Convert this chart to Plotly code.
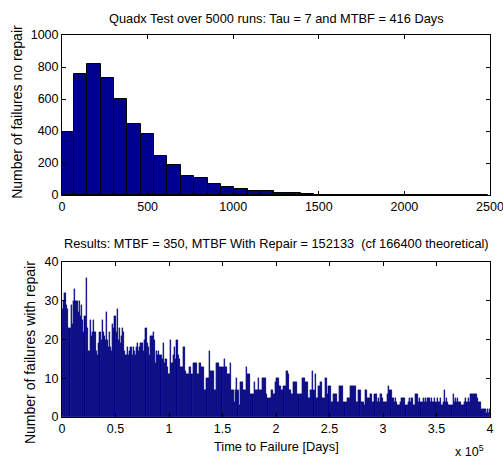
import plotly.graph_objects as go

# ---------------- data ----------------
# Top histogram (no repair): 32 bins, width 78 days, first edge at -8 days
top_first_edge = -8
top_bin_width = 78
top_counts = [397, 759, 821, 730, 599, 445, 383, 243, 189, 116,
              104, 69, 48, 40, 25, 25, 12, 12, 5, 0,
              2, 2, 2, 2, 2, 0, 0, 0, 0, 0,
              2, 2]

# Bottom histogram (with repair): 400 bins of 1000 days
bottom_bin_width = 1000
bottom_counts = [
    28, 30, 32, 32, 29, 28, 23, 23, 29, 24,
    30, 33, 30, 30, 30, 27, 30, 26, 29, 25,
    22, 26, 36, 23, 17, 17, 25, 21, 22, 25,
    22, 22, 17, 16, 19, 22, 20, 25, 22, 21,
    20, 27, 20, 18, 22, 18, 17, 24, 23, 26,
    22, 28, 20, 23, 19, 21, 23, 22, 17, 16,
    16, 18, 16, 17, 18, 16, 18, 17, 16, 18,
    19, 17, 18, 19, 19, 19, 17, 20, 23, 19,
    18, 16, 21, 21, 21, 22, 20, 14, 17, 16,
    17, 16, 16, 15, 19, 14, 15, 15, 13, 11,
    11, 20, 14, 14, 16, 18, 15, 20, 16, 15,
    13, 13, 13, 18, 18, 12, 11, 11, 11, 13,
    13, 11, 14, 14, 14, 14, 11, 11, 14, 14,
    13, 13, 13, 7, 7, 10, 10, 17, 12, 12,
    12, 12, 7, 7, 14, 14, 14, 13, 13, 13,
    13, 15, 13, 13, 11, 11, 11, 14, 7, 7,
    7, 4, 7, 10, 7, 3, 9, 9, 9, 7,
    7, 7, 13, 11, 11, 11, 6, 6, 6, 9,
    7, 7, 7, 10, 7, 7, 7, 10, 10, 10,
    10, 6, 5, 5, 5, 7, 7, 6, 6, 9,
    10, 10, 10, 8, 8, 7, 7, 8, 8, 12,
    12, 11, 7, 7, 6, 6, 9, 9, 9, 9,
    6, 6, 6, 6, 10, 10, 10, 9, 9, 9,
    5, 5, 7, 7, 12, 7, 11, 5, 5, 8,
    8, 9, 9, 5, 5, 5, 10, 10, 6, 8,
    8, 4, 4, 6, 6, 6, 6, 4, 4, 8,
    8, 8, 8, 4, 4, 4, 5, 5, 5, 8,
    8, 8, 8, 8, 8, 4, 4, 7, 7, 4,
    4, 4, 3, 7, 7, 5, 5, 5, 6, 6,
    4, 4, 6, 6, 4, 5, 4, 6, 6, 5,
    4, 4, 4, 4, 6, 8, 7, 7, 5, 5,
    4, 5, 4, 3, 3, 3, 4, 5, 5, 5,
    5, 3, 3, 4, 5, 4, 5, 5, 3, 3,
    6, 6, 6, 4, 5, 4, 4, 5, 4, 5,
    4, 5, 5, 5, 4, 5, 4, 4, 5, 4,
    5, 4, 4, 5, 3, 3, 4, 7, 4, 5,
    4, 3, 3, 3, 3, 6, 4, 5, 4, 5,
    4, 4, 4, 3, 3, 3, 4, 5, 4, 5,
    4, 6, 6, 6, 6, 6, 6, 6, 5, 4,
    4, 4, 2, 2, 2, 2, 1, 2, 1, 2,
]

top_xticks = [0, 500, 1000, 1500, 2000, 2500]
top_yticks = [0, 200, 400, 600, 800, 1000]
bottom_xticks = [0, 50000, 100000, 150000, 200000, 250000, 300000, 350000, 400000]
bottom_xticklabels = ["0", "0.5", "1", "1.5", "2", "2.5", "3", "3.5", "4"]
bottom_yticks = [0, 10, 20, 30, 40]

top_title = "Quadx Test over 5000 runs: Tau = 7 and MTBF = 416 Days"
bottom_title = "Results: MTBF = 350, MTBF With Repair = 152133\u00a0\u00a0(cf 166400 theoretical)"

# ---------------- figure ----------------
top_centers = [top_first_edge + top_bin_width * (i + 0.5) for i in range(len(top_counts))]
bottom_centers = [bottom_bin_width * (i + 0.5) for i in range(len(bottom_counts))]

BAR = "#000090"
FONT = "Liberation Sans, Arial, sans-serif"

fig = go.Figure()
fig.add_trace(go.Bar(x=top_centers, y=top_counts, width=top_bin_width,
                     marker=dict(color=BAR, line=dict(color="black", width=1)),
                     xaxis="x", yaxis="y", showlegend=False, hoverinfo="skip"))
fig.add_trace(go.Bar(x=bottom_centers, y=bottom_counts, width=bottom_bin_width,
                     marker=dict(color=BAR, line=dict(color="#00006a", width=0.3)),
                     xaxis="x2", yaxis="y2", showlegend=False, hoverinfo="skip"))

axis_common = dict(showline=True, linecolor="black", linewidth=1, mirror="ticks",
                   ticks="inside", ticklen=4, tickcolor="black", showgrid=False,
                   zeroline=False, automargin=False, ticklabeloverflow="allow",
                   tickfont=dict(family=FONT, size=12.5, color="black"))

fig.update_layout(
    width=503, height=459,
    margin=dict(l=62, r=13, t=35, b=42, autoexpand=False),
    paper_bgcolor="white", plot_bgcolor="white",
    bargap=0,
    font=dict(family=FONT, size=12.5, color="black"),
    xaxis=dict(domain=[0, 1], anchor="y", range=[0, 2500], tickvals=top_xticks, **axis_common),
    yaxis=dict(domain=[0.581, 1.0], anchor="x", range=[0, 1000], tickvals=top_yticks, **axis_common),
    xaxis2=dict(domain=[0, 1], anchor="y2", range=[0, 400000], tickvals=bottom_xticks,
                ticktext=bottom_xticklabels, **axis_common),
    yaxis2=dict(domain=[0, 0.4058], anchor="x2", range=[0, 40], tickvals=bottom_yticks, **axis_common),
)

def ann(size):
    return dict(xref="paper", yref="paper", showarrow=False,
                font=dict(family=FONT, size=size, color="black"))

fig.add_annotation(text=top_title, x=0.5, y=1.0445, xanchor="center", yanchor="middle", **ann(12.8))
fig.add_annotation(text=bottom_title, x=0.5, y=0.4529, xanchor="center", yanchor="middle", **ann(12.8))
fig.add_annotation(text="Time to Failure [Days]", x=0.5, y=-0.0785, xanchor="center", yanchor="middle", **ann(12.8))
fig.add_annotation(text="x 10<sup>5</sup>", x=0.953, y=-0.089, xanchor="center", yanchor="middle", **ann(12.5))
fig.add_annotation(text="Number of failures no repair", x=-0.105, y=0.799, textangle=-90,
                   xanchor="center", yanchor="middle", **ann(14))
fig.add_annotation(text="Number of failures with repair", x=-0.0748, y=0.170, textangle=-90,
                   xanchor="center", yanchor="middle", **ann(14))

fig.write_html("out.html")
